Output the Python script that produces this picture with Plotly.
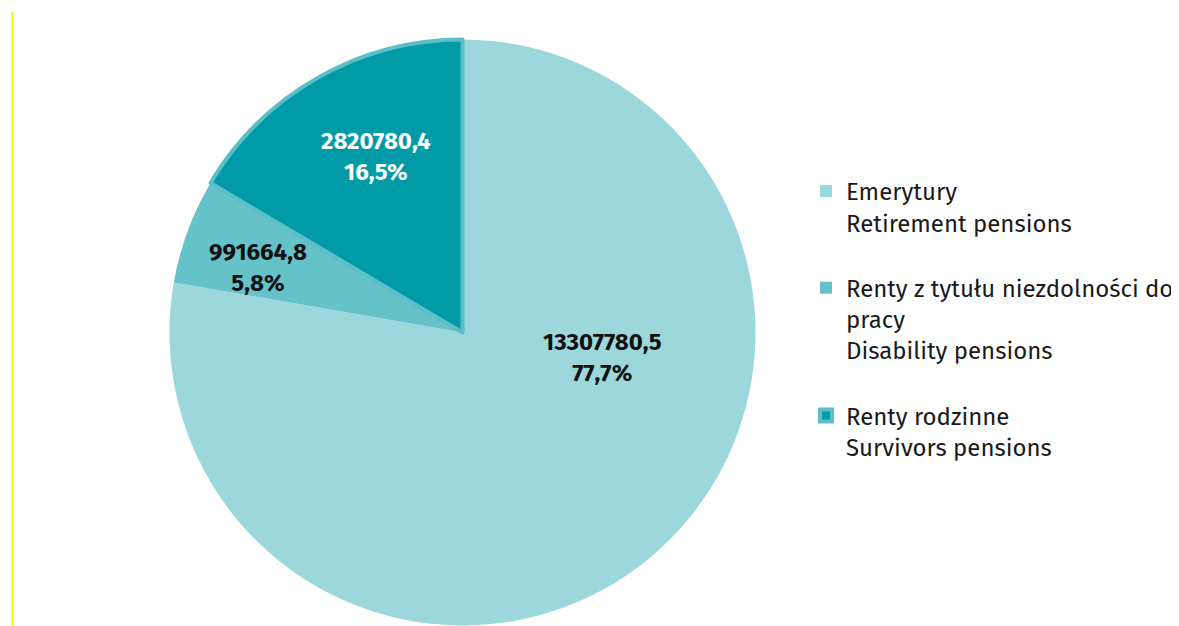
import plotly.graph_objects as go

labels_pl = ["Emerytury", "Renty z tytułu niezdolności do<br>pracy", "Renty rodzinne"]
labels_en = ["Retirement pensions", "Disability pensions", "Survivors pensions"]
values = [13307780.5, 991664.8, 2820780.4]
colors = ["#9bd7db", "#65c2c9", "#009ba6"]
label_colors = ["#111111", "#111111", "#ffffff"]

OFF = 8  # page body margin offset
W, H = 1179 - OFF, 626 - OFF
total = sum(values)
pcts = [v / total * 100 for v in values]

def fmt_num(v):
    return f"{v:.1f}".replace(".", ",")

FONT = "Fira Sans, Lato, Noto Sans"

legend_labels = [f"{p}<br>{e}<br> " for p, e in zip(labels_pl, labels_en)]

cx, cy, R = 462.5 - OFF, 332.5 - OFF, 293
fig = go.Figure(go.Pie(
    labels=legend_labels,
    values=values,
    sort=False,
    direction="clockwise",
    rotation=0,
    marker=dict(colors=colors, line=dict(color=["#ffffff", "#ffffff", "#5bbfc7"], width=[0, 0, 4])),
    textinfo="none",
    hoverinfo="label+value+percent",
    domain=dict(x=[(cx - R) / W, (cx + R) / W],
                y=[max(0, 1 - (cy + R) / H), 1 - (cy - R) / H]),
))

# label centers in page pixels
label_pos = [(602, 357.5), (257.5, 267.5), (376, 156.5)]
for v, p, c, (px, py) in zip(values, pcts, label_colors, label_pos):
    fig.add_annotation(
        x=(px - OFF) / W, y=1 - (py - OFF) / H, xref="paper", yref="paper",
        xanchor="center", yanchor="middle",
        text=f"<b>{fmt_num(v)}<br>{fmt_num(p)}%</b>",
        showarrow=False, font=dict(size=24, color=c, family=FONT),
        align="center",
    )

fig.add_shape(type="line", xref="paper", yref="paper",
              x0=(12.5 - OFF) / W, x1=(12.5 - OFF) / W, y0=0, y1=1 - (12 - OFF) / H,
              line=dict(color="#f7ef00", width=2))

fig.update_layout(
    width=W, height=H,
    margin=dict(l=0, r=0, t=0, b=0, autoexpand=False),
    paper_bgcolor="white", plot_bgcolor="white",
    font=dict(family=FONT, size=24, color="#1a1a1a"),
    legend=dict(x=1, y=1 - (169 - OFF) / H, xanchor="right", yanchor="top",
                font=dict(size=24, color="#1a1a1a", family=FONT), itemwidth=30,
                valign="top", bgcolor="rgba(0,0,0,0)"),
    showlegend=True,
)

fig.write_html("out.html")
